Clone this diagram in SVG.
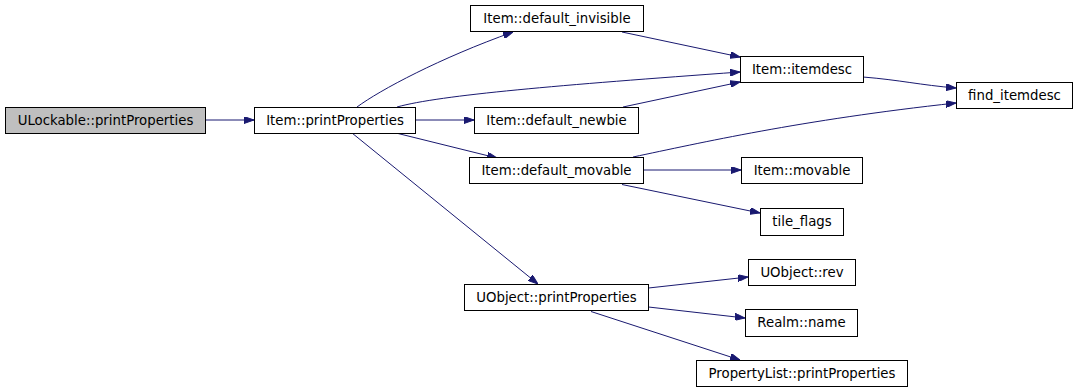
<svg xmlns="http://www.w3.org/2000/svg" width="1077" height="392" viewBox="0 0 1077 392">
<style>
.n rect{fill:#ffffff;stroke:#000000;stroke-width:1}
.n text{font-family:"DejaVu Sans",sans-serif;font-size:13.3px;fill:#000000;text-anchor:middle}
#n0 rect{fill:#bfbfbf}
.e path{fill:none;stroke:#191970;stroke-width:1;marker-end:url(#ah)}
</style>
<defs>
<marker id="ah" markerUnits="userSpaceOnUse" markerWidth="10" markerHeight="7" refX="10" refY="3.5" orient="auto">
<path d="M0,0 L10,3.5 L0,7 z" fill="#191970" stroke="#191970" stroke-width="1"/>
</marker>
</defs>
<rect width="1077" height="392" fill="#ffffff"/>
<g id="edges" class="e">
<path d="M205.5,120 L254,120"/>
<path d="M357,107 C380,90 440,58 513,32"/>
<path d="M397,107 C440,95 560,85 740,72"/>
<path d="M622,32 L740,57"/>
<path d="M623,107 L740,82"/>
<path d="M415.5,120 L474,120"/>
<path d="M396,133 L497,158"/>
<path d="M352,133 L538,284"/>
<path d="M863,77 C900,80 920,85 956,88"/>
<path d="M633,157 C700,143 800,120 956,103"/>
<path d="M643.5,170 L741,170"/>
<path d="M622,184.5 L760,213"/>
<path d="M648.5,288 L748,277"/>
<path d="M648.5,307 L745,318"/>
<path d="M591,311.5 L740,360"/>
</g>
<g id="n0" class="n"><rect x="5.5" y="107.5" width="200" height="26"/><text x="105.5" y="125">ULockable::printProperties</text></g>
<g id="n1" class="n"><rect x="254.5" y="107.5" width="161" height="26"/><text x="335" y="125">Item::printProperties</text></g>
<g id="n2" class="n"><rect x="470.5" y="5.5" width="173" height="26"/><text x="557" y="23">Item::default_invisible</text></g>
<g id="n3" class="n"><rect x="740.5" y="56.5" width="123" height="26"/><text x="802" y="74">Item::itemdesc</text></g>
<g id="n4" class="n"><rect x="474.5" y="107.5" width="164" height="26"/><text x="556.5" y="125">Item::default_newbie</text></g>
<g id="n5" class="n"><rect x="956.5" y="82.5" width="116" height="26"/><text x="1014.5" y="100">find_itemdesc</text></g>
<g id="n6" class="n"><rect x="469.5" y="157.5" width="174" height="26"/><text x="556.5" y="175">Item::default_movable</text></g>
<g id="n7" class="n"><rect x="741.5" y="157.5" width="121" height="26"/><text x="802" y="175">Item::movable</text></g>
<g id="n8" class="n"><rect x="760.5" y="208.5" width="83" height="27"/><text x="802" y="226">tile_flags</text></g>
<g id="n9" class="n"><rect x="464.5" y="284.5" width="184" height="26"/><text x="556.5" y="302">UObject::printProperties</text></g>
<g id="n10" class="n"><rect x="748.5" y="259.5" width="107" height="26"/><text x="802" y="277">UObject::rev</text></g>
<g id="n11" class="n"><rect x="745.5" y="309.5" width="112" height="27"/><text x="801.5" y="327">Realm::name</text></g>
<g id="n12" class="n"><rect x="696.5" y="360.5" width="211" height="26"/><text x="802" y="378">PropertyList::printProperties</text></g>
</svg>
